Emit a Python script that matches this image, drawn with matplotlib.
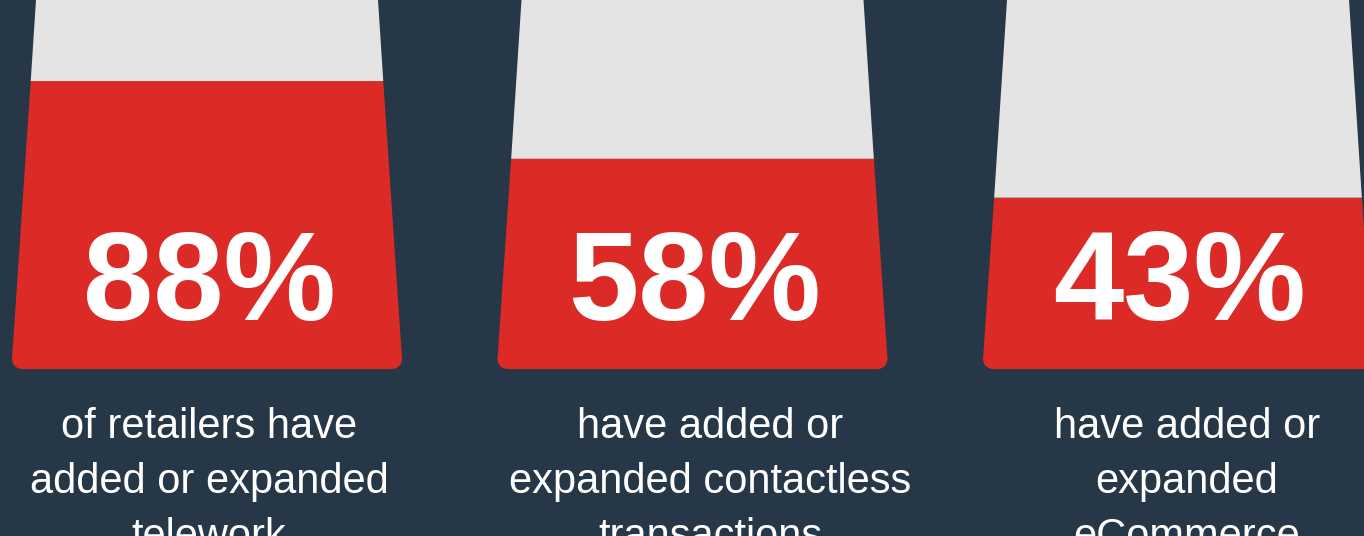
import numpy as np
import matplotlib
matplotlib.use('Agg')
import matplotlib.pyplot as plt
from matplotlib.patches import Polygon

# данные
values = [88, 58, 43]
labels = ['88%', '58%', '43%']
captions = [
    ['of retailers have', 'added or expanded', 'telework'],
    ['have added or', 'expanded contactless', 'transactions'],
    ['have added or', 'expanded', 'eCommerce'],
]

bg = '#263847'
red = '#dc2a27'
grey = '#e4e4e4'

W, H = 1364, 536
SLOT = 485.5          # px between glass centres
X0 = 207              # px of first centre
ZERO_PX = 309         # px row of 0 %
PX_PER_PCT = 2.59


def v_of(py):
    return (ZERO_PX - py) / PX_PER_PCT


def x_of(px):
    return (px - X0) / SLOT


fig = plt.figure(figsize=(W / 100, H / 100), dpi=100, facecolor=bg)
ax = fig.add_axes([0, 0, 1, 1])
ax.set_facecolor(bg)
ax.set_xlim(x_of(0), x_of(W))
ax.set_ylim(v_of(H), v_of(0))
ax.axis('off')

v_bot = v_of(369)
v_top = v_of(-20)
hw_bot = 195 / SLOT
hw_img_top = 171 / SLOT
taper = (hw_bot - hw_img_top) / (v_of(0) - v_bot)


def hw(v):
    return hw_bot - (v - v_bot) * taper


rx = 10 / SLOT
ry = 10 / PX_PER_PCT
t = np.linspace(0, np.pi / 2, 12)

for i, val in enumerate(values):
    c = i
    xl, xr = c - hw(v_bot), c + hw(v_bot)
    pts = []
    # левый нижний скруглённый угол
    for a in t:
        pts.append((xl + rx - rx * np.sin(a), v_bot + ry - ry * np.cos(a)))
    pts.append((c - hw(val), val))
    pts.append((c + hw(val), val))
    for a in t[::-1]:
        pts.append((xr - rx + rx * np.sin(a), v_bot + ry - ry * np.cos(a)))
    ax.add_patch(Polygon(pts, closed=True, facecolor=red, edgecolor='none'))

    grey_pts = [(c - hw(val), val), (c - hw(v_top), v_top),
                (c + hw(v_top), v_top), (c + hw(val), val)]
    ax.add_patch(Polygon(grey_pts, closed=True, facecolor=grey, edgecolor='none'))

    ax.text(c + x_of(209) , v_of(320), labels[i], color='white', fontsize=91,
            fontweight='bold', family='Liberation Sans', ha='center', va='baseline')

cap_x = [209, 710, 1187]
for i, lines in enumerate(captions):
    for j, line in enumerate(lines):
        ax.text(x_of(cap_x[i]), v_of(438 + 55 * j), line, color='white',
                fontsize=30, family='Liberation Sans', ha='center', va='baseline')

fig.savefig('out.png', dpi=100, facecolor=bg)
